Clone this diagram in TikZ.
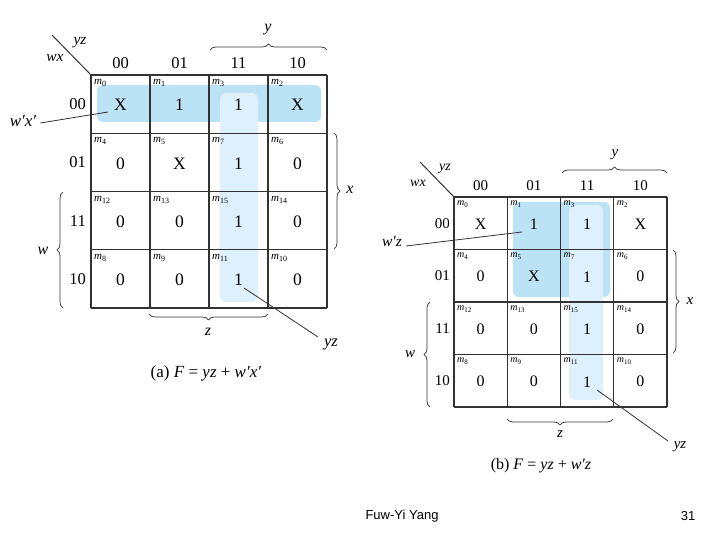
\documentclass[tikz,border=0pt]{standalone}
\usepackage{fontspec}
\setmainfont{Liberation Serif}
\newfontfamily\footfont{Liberation Sans}
\usetikzlibrary{decorations.pathreplacing}
\definecolor{hldark}{RGB}{188,226,245}
\definecolor{hllight}{RGB}{222,240,251}
\definecolor{gridc}{RGB}{50,50,50}
\tikzset{
 gridl/.style={draw=gridc,line width=1.3pt},
 hlA/.style={fill=hldark,rounded corners=6pt},
 hlB/.style={fill=hllight,rounded corners=6pt},
 lbl/.style={inner sep=0pt,font=\itshape},
 brc/.style={decorate,decoration={brace,amplitude=6pt},draw=gridc,line width=0.7pt},
 leader/.style={draw=gridc,line width=0.8pt},
 valtext/.style={inner sep=0pt},
 mtext/.style={inner sep=0pt,anchor=west},
 hdr/.style={inner sep=0pt},
}
% #1 prefix, #2 L, #3 T, #4 W, #5 H, #6 value font size, #7 m font size, #8 sub size, #9 m y offset
\newcommand{\drawkmap}[9]{%
 \foreach \v/\m [count=\i from 0] in {X/0,1/1,1/3,X/2,0/4,X/5,1/7,0/6,0/12,0/13,1/15,0/14,0/8,0/9,1/11,0/10}{
   \pgfmathtruncatemacro{\r}{div(\i,4)}
   \pgfmathtruncatemacro{\c}{mod(\i,4)}
   \pgfmathsetmacro{\cx}{#2+(\c+0.5)*#4}
   \pgfmathsetmacro{\cy}{#3+(\r+0.5)*#5+1}
   \pgfmathsetmacro{\mx}{#2+\c*#4+3}
   \pgfmathsetmacro{\my}{#3+\r*#5+#9}
   \node[valtext,font=\fontsize{#6}{#6}\selectfont] (#1v\i) at (\cx,\cy) {\v};
   \node[mtext,font=\fontsize{#7}{#7}\selectfont] (#1m\i) at (\mx,\my) {\textit{m}\raisebox{-2pt}{\fontsize{#8}{#8}\selectfont\m}};
 }
 \foreach \k in {0,...,4}{
   \draw[gridl] ({#2+\k*#4},#3) -- ({#2+\k*#4},{#3+4*#5});
   \draw[gridl] (#2,{#3+\k*#5}) -- ({#2+4*#4},{#3+\k*#5});
 }
}
\begin{document}
\begin{tikzpicture}[x=1pt,y=-1pt]
\useasboundingbox (0,0) rectangle (720,540);
% ---------------- map (a)
\fill[hlA] (97,85) rectangle (321,122);
\fill[hlB] (220,93) rectangle (258,302);
\drawkmap{a}{91}{75}{59}{58.25}{17.5}{11}{8}{8}
\foreach \t [count=\c from 0] in {00,01,11,10}{
  \node[hdr,font=\fontsize{16.5}{16.5}\selectfont] (ach\c) at ({91+(\c+0.5)*59},63) {\t};
}
\foreach \t [count=\r from 0] in {00,01,11,10}{
  \node[hdr,anchor=east,font=\fontsize{16.5}{16.5}\selectfont] (arh\r) at (86,{75+(\r+0.5)*58.25}) {\t};
}
\coordinate (adg1) at (52,35);
\coordinate (adg2) at (91,75);
\draw[gridc,line width=1pt] (adg1) -- (adg2);
\node[lbl,font=\fontsize{15.5}{15.5}\selectfont\itshape] (ayz) at (80,43) {yz};
\node[lbl,font=\fontsize{15.5}{15.5}\selectfont\itshape] (awx) at (55,58) {wx};
\coordinate (ab1a) at (210,50); \coordinate (ab1b) at (327,50);
\draw[brc] (ab1a) -- (ab1b);
\node[lbl,font=\fontsize{16}{16}\selectfont\itshape] (ay) at (268,30) {y};
\coordinate (ab2a) at (334,133); \coordinate (ab2b) at (334,249);
\draw[brc] (ab2a) -- (ab2b);
\node[lbl,font=\fontsize{16}{16}\selectfont\itshape] (ax) at (350,190) {x};
\coordinate (ab3a) at (63,308); \coordinate (ab3b) at (63,192);
\draw[brc] (ab3a) -- (ab3b);
\node[lbl,font=\fontsize{16}{16}\selectfont\itshape] (aw) at (43,251) {w};
\coordinate (ab4a) at (268,314); \coordinate (ab4b) at (149,314);
\draw[brc] (ab4a) -- (ab4b);
\node[lbl,font=\fontsize{16}{16}\selectfont\itshape] (az) at (208,332) {z};
\node[lbl,font=\fontsize{17}{17}\selectfont\itshape] (awpxp) at (23,121) {w′x′};
\coordinate (ald1) at (108,112);
\draw[leader] (awpxp.east) ++(4,2) -- (ald1);
\coordinate (ald2) at (244,288);
\node[lbl,font=\fontsize{16.5}{16.5}\selectfont\itshape] (ayzl) at (331,344) {yz};
\coordinate (ald3) at (318,337);
\draw[leader] (ald2) -- (ald3);
\node[inner sep=0pt,font=\fontsize{17}{17}\selectfont] (acap) at (206,373) {(a) \textit{F} = \textit{yz} + \textit{w′x′}};
% ---------------- map (b)
\fill[hlA] (513,202) rectangle (610,297);
\fill[hlB] (569,205) rectangle (603,400);
\drawkmap{b}{454}{197}{53.25}{52.5}{16}{10}{7}{7}
\foreach \t [count=\c from 0] in {00,01,11,10}{
  \node[hdr,font=\fontsize{15}{15}\selectfont] (bch\c) at ({454+(\c+0.5)*53.25},186) {\t};
}
\foreach \t [count=\r from 0] in {00,01,11,10}{
  \node[hdr,anchor=east,font=\fontsize{15}{15}\selectfont] (brh\r) at (450,{197+(\r+0.5)*52.5}) {\t};
}
\coordinate (bdg1) at (420,162);
\coordinate (bdg2) at (454,197);
\draw[gridc,line width=1pt] (bdg1) -- (bdg2);
\node[lbl,font=\fontsize{14}{14}\selectfont\itshape] (byz) at (445,169) {yz};
\node[lbl,font=\fontsize{14}{14}\selectfont\itshape] (bwx) at (418,183) {wx};
\coordinate (bb1a) at (562,173); \coordinate (bb1b) at (667,173);
\draw[brc] (bb1a) -- (bb1b);
\node[lbl,font=\fontsize{15}{15}\selectfont\itshape] (by) at (615,155) {y};
\coordinate (bb2a) at (673,250); \coordinate (bb2b) at (673,353);
\draw[brc] (bb2a) -- (bb2b);
\node[lbl,font=\fontsize{15}{15}\selectfont\itshape] (bx) at (690,301) {x};
\coordinate (bb3a) at (430,407); \coordinate (bb3b) at (430,302);
\draw[brc] (bb3a) -- (bb3b);
\node[lbl,font=\fontsize{15}{15}\selectfont\itshape] (bw) at (410,354) {w};
\coordinate (bb4a) at (613,419); \coordinate (bb4b) at (507,419);
\draw[brc] (bb4a) -- (bb4b);
\node[lbl,font=\fontsize{15}{15}\selectfont\itshape] (bz) at (560,434) {z};
\node[lbl,font=\fontsize{15.5}{15.5}\selectfont\itshape] (bwpz) at (392,242) {w′z};
\coordinate (bld1) at (522,232);
\draw[leader] (bwpz.east) ++(4,4) -- (bld1);
\coordinate (bld2) at (597,390);
\node[lbl,font=\fontsize{15}{15}\selectfont\itshape] (byzl) at (680,447) {yz};
\coordinate (bld3) at (668,441);
\draw[leader] (bld2) -- (bld3);
\node[inner sep=0pt,font=\fontsize{16}{16}\selectfont] (bcap) at (541,466) {(b) \textit{F} = \textit{yz} + \textit{w′z}};
% ---------------- footer
\node[inner sep=0pt,font=\footfont\fontsize{13}{13}\selectfont] (foot) at (402,516) {Fuw-Yi Yang};
\node[inner sep=0pt,font=\footfont\fontsize{13}{13}\selectfont] (pnum) at (688,516) {31};
\end{tikzpicture}
\end{document}
